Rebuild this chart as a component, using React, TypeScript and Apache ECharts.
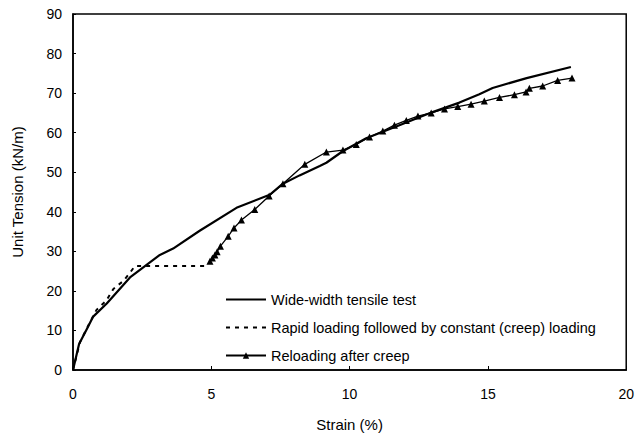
import React, { useEffect, useRef } from "react";
import * as echarts from "echarts";

const wideStrain = [0, 0.22, 0.52, 0.73, 1.22, 2.06, 3.14, 3.62, 4.58, 5.91, 7.11, 7.59, 8.19, 8.92, 9.16, 9.75, 10.6, 11.8, 13.0, 13.97, 14.69, 15.17, 16.4, 18.0];
const wideTension = [0, 6.6, 10.6, 13.5, 16.8, 23.4, 29.1, 30.7, 35.2, 41.0, 44.3, 47.1, 49.2, 51.6, 52.4, 55.3, 58.6, 61.9, 65.2, 67.6, 69.7, 71.3, 73.8, 76.6];

const rapidStrain = [0, 0.25, 0.55, 0.85, 1.2, 1.46, 1.82, 2.05, 2.24, 3.0, 4.0, 4.83];
const rapidTension = [0, 7.0, 11.2, 15.2, 17.5, 20.5, 22.5, 24.5, 26.3, 26.3, 26.3, 26.3];

const reloadStrain = [4.95, 5.04, 5.13, 5.21, 5.33, 5.61, 5.82, 6.09, 6.57, 7.09, 7.59, 8.38, 9.16, 9.76, 10.24, 10.72, 11.2, 11.62, 12.05, 12.47, 12.95, 13.43, 13.91, 14.39, 14.87, 15.42, 15.96, 16.38, 16.5, 16.98, 17.52, 18.04];
const reloadTension = [27.5, 28.3, 29.1, 29.9, 31.3, 33.8, 35.9, 37.9, 40.6, 44.0, 47.1, 52.0, 55.1, 55.6, 57.0, 58.9, 60.4, 61.9, 63.1, 64.2, 65.0, 66.0, 66.6, 67.2, 68.0, 68.9, 69.6, 70.3, 71.2, 71.8, 73.2, 73.8];

const seriesNames = [
  "Wide-width tensile test",
  "Rapid loading followed by constant (creep) loading",
  "Reloading after creep",
];

const zip = (xs: number[], ys: number[]) => xs.map((x, i) => [x, ys[i]]);

export default function App() {
  const ref = useRef<HTMLDivElement>(null);
  useEffect(() => {
    if (!ref.current) return;
    const chart = echarts.init(ref.current, undefined, { renderer: "svg" });
    const font = "Liberation Sans, Arial, Helvetica, sans-serif";
    const hidden = { color: "transparent", borderColor: "transparent", borderWidth: 0 };
    chart.setOption({
      animation: false,
      backgroundColor: "#fff",
      textStyle: { fontFamily: font, color: "#000" },
      grid: {
        left: 73,
        right: 10,
        top: 14,
        bottom: 57,
        show: true,
        borderColor: "#000",
        borderWidth: 1.5,
        containLabel: false,
      },
      legend: {
        orient: "vertical",
        left: 220,
        top: 287,
        itemWidth: 40,
        itemHeight: 8,
        itemGap: 13,
        textStyle: { fontFamily: font, fontSize: 14.5, color: "#000" },
        data: [
          { name: seriesNames[0], itemStyle: hidden },
          { name: seriesNames[1], itemStyle: hidden },
          { name: seriesNames[2] },
        ],
      },
      xAxis: {
        type: "value",
        min: 0,
        max: 20,
        interval: 5,
        name: "Strain (%)",
        nameLocation: "middle",
        nameGap: 47,
        nameTextStyle: { fontFamily: font, fontSize: 15, color: "#000" },
        axisLine: { onZero: false, lineStyle: { color: "#000", width: 1.5 } },
        axisTick: { inside: true, length: 4, lineStyle: { color: "#000" } },
        axisLabel: { fontFamily: font, fontSize: 14, color: "#000", margin: 17 },
        splitLine: { show: false },
      },
      yAxis: {
        type: "value",
        min: 0,
        max: 90,
        interval: 10,
        name: "Unit Tension (kN/m)",
        nameLocation: "middle",
        nameGap: 48,
        nameTextStyle: { fontFamily: font, fontSize: 15, color: "#000" },
        axisLine: { onZero: false, lineStyle: { color: "#000", width: 1.5 } },
        axisTick: { inside: true, length: 3, lineStyle: { color: "#000" } },
        axisLabel: { fontFamily: font, fontSize: 14, color: "#000", margin: 11 },
        splitLine: { show: false },
      },
      series: [
        {
          name: seriesNames[0],
          type: "line",
          data: zip(wideStrain, wideTension),
          showSymbol: false,
          symbol: "none",
          lineStyle: { color: "#000", width: 2.2 },
          itemStyle: { color: "#000" },
          z: 3,
        },
        {
          name: seriesNames[1],
          type: "line",
          data: zip(rapidStrain, rapidTension),
          showSymbol: false,
          symbol: "none",
          lineStyle: { color: "#000", width: 2, type: [4, 5] },
          itemStyle: { color: "#000" },
          z: 2,
        },
        {
          name: seriesNames[2],
          type: "line",
          data: zip(reloadStrain, reloadTension),
          symbol: "triangle",
          symbolSize: 7,
          lineStyle: { color: "#000", width: 1.3 },
          itemStyle: { color: "#000" },
          z: 4,
        },
      ],
    });
    return () => chart.dispose();
  }, []);
  return (
    <div
      ref={ref}
      style={{ position: "fixed", left: 0, top: 0, width: 637, height: 437, background: "#fff" }}
    />
  );
}
